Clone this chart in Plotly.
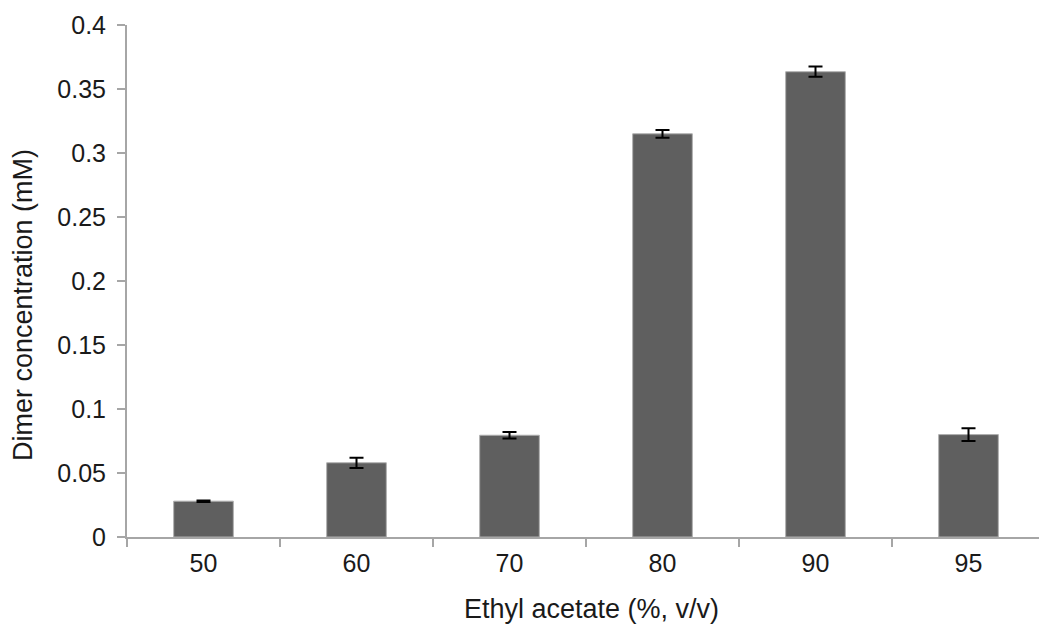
import plotly.graph_objects as go

# Dimer concentration vs. ethyl acetate content
ethyl_acetate = ["50", "60", "70", "80", "90", "95"]
dimer_mM = [0.028, 0.058, 0.0795, 0.315, 0.3635, 0.080]
dimer_err = [0.0006, 0.004, 0.0025, 0.003, 0.004, 0.005]

axis_grey = "#a6a6a6"
font_family = "Liberation Sans, Arial, sans-serif"

fig = go.Figure(
    go.Bar(
        x=ethyl_acetate,
        y=dimer_mM,
        width=0.39,
        marker=dict(color="#5f5f5f", line=dict(color="#b0b0b0", width=1)),
        error_y=dict(type="data", array=dimer_err, symmetric=True,
                     color="black", thickness=2, width=7),
    )
)

fig.update_layout(
    width=1039,
    height=630,
    margin=dict(l=127, r=0, t=25, b=93),
    paper_bgcolor="white",
    plot_bgcolor="white",
    showlegend=False,
    font=dict(family=font_family, size=25, color="#1a1a1a"),
)

fig.update_xaxes(
    type="category",
    range=[-0.5, -0.5 + 912 / 153],
    showline=True, linecolor=axis_grey, linewidth=2,
    ticks="outside", tickson="boundaries", ticklen=8, tickwidth=2, tickcolor=axis_grey,
    showgrid=False, zeroline=False,
    ticklabelstandoff=3,
)

fig.update_yaxes(
    range=[0, 0.4],
    tickvals=[0, 0.05, 0.1, 0.15, 0.2, 0.25, 0.3, 0.35, 0.4],
    ticktext=["0", "0.05", "0.1", "0.15", "0.2", "0.25", "0.3", "0.35", "0.4"],
    showline=True, linecolor=axis_grey, linewidth=2,
    ticks="outside", ticklen=8, tickwidth=2, tickcolor=axis_grey,
    showgrid=False, zeroline=False,
    ticklabelstandoff=6,
)

fig.add_annotation(
    text="Ethyl acetate (%, v/v)", xref="paper", yref="paper",
    x=(591 - 127) / 912, y=-(609 - 537) / 512, xanchor="center", yanchor="middle",
    showarrow=False, font=dict(size=27),
)
fig.add_annotation(
    text="Dimer concentration (mM)", xref="paper", yref="paper",
    x=-(127 - 23) / 912, y=(537 - 305) / 512, xanchor="center", yanchor="middle",
    textangle=-90, showarrow=False, font=dict(size=27),
)

fig.write_html("out.html")
